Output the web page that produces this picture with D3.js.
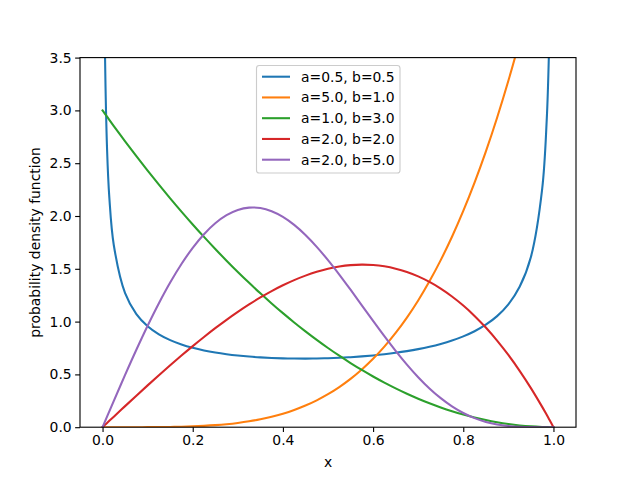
<!DOCTYPE html>
<html><head><meta charset="utf-8">
<script src="https://cdn.jsdelivr.net/npm/d3@7/dist/d3.min.js"></script>
<style>body{margin:0;background:#fff;} text{font-family:"DejaVu Sans",sans-serif;}</style>
</head><body><svg id="c" width="640" height="480"></svg>
<script>
const xs = [0,0.002,0.005,0.01,0.015,0.025,0.05,0.075,0.1,0.125,0.15,0.175,0.2,0.225,0.25,0.275,0.3,0.325,0.35,0.375,0.4,0.425,0.45,0.475,0.5,0.525,0.55,0.575,0.6,0.625,0.65,0.675,0.7,0.725,0.75,0.775,0.8,0.825,0.85,0.875,0.9,0.925,0.95,0.975,0.985,0.99,0.995,0.998,1];
const s1 = [null,5.72,3.668,2.635,2.179,1.7232,1.2689,1.0713,0.9561,0.8795,0.8247,0.7836,0.7519,0.7269,0.7071,0.6913,0.6787,0.6688,0.6613,0.6557,0.6520,0.6500,0.6496,0.6507,0.6533,0.6574,0.6632,0.6706,0.6798,0.6910,0.7044,0.7204,0.7393,0.7618,0.7887,0.8209,0.8602,0.9089,0.9706,1.0517,1.1633,1.3294,1.6120,2.2570,2.9032,3.5489,5.0094,7.912,null];
const s2 = [0,0,0,0,0,0.000002,0.0000313,0.000158,0.0005,0.00122,0.00253,0.00469,0.008,0.01281,0.01953,0.0286,0.0405,0.05578,0.07503,0.09888,0.128,0.16313,0.20503,0.25453,0.3125,0.37984,0.45753,0.54656,0.648,0.76294,0.89253,1.03797,1.2005,1.38141,1.58203,1.80375,2.048,2.31625,2.61003,2.93091,3.2805,3.66047,4.07253,4.51844,4.7067,4.80298,4.9,4.96,5];
const s3 = [3,2.98801,2.97008,2.9403,2.91068,2.85188,2.7075,2.56688,2.43,2.29688,2.1675,2.04188,1.92,1.80188,1.6875,1.57688,1.47,1.36688,1.2675,1.17188,1.08,0.99188,0.9075,0.82688,0.75,0.67688,0.6075,0.54188,0.48,0.42188,0.3675,0.31688,0.27,0.22688,0.1875,0.15188,0.12,0.09188,0.0675,0.04688,0.03,0.01688,0.0075,0.001875,0.000675,0.0003,0.000075,0.000012,0];
const s4 = [0,0.008,0.02,0.04,0.05999,0.09994,0.1995,0.29831,0.396,0.49219,0.5865,0.67856,0.768,0.85444,0.9375,1.01681,1.092,1.16269,1.2285,1.28906,1.344,1.39294,1.4355,1.47131,1.5,1.52119,1.5345,1.53956,1.536,1.52344,1.5015,1.46981,1.428,1.37569,1.3125,1.23806,1.152,1.05394,0.9435,0.82031,0.684,0.53419,0.3705,0.19256,0.11731,0.0788,0.0397,0.01595,0];
const s5 = [0,0.02,0.04999,0.09996,0.14986,0.24938,0.49502,0.73327,0.9606,1.17369,1.36949,1.54527,1.69869,1.82782,1.93119,2.00782,2.05725,2.07952,2.07518,2.04532,1.99148,1.91566,1.82027,1.70804,1.58203,1.44548,1.30178,1.15437,1.00663,0.86182,0.72297,0.59279,0.47357,0.36713,0.27477,0.19716,0.13437,0.08583,0.0504,0.0264,0.01173,0.00402,0.00086,0.000058,0,0,0,0,0];
const labels = ["a=0.5, b=0.5","a=5.0, b=1.0","a=1.0, b=3.0","a=2.0, b=2.0","a=2.0, b=5.0"];
const colors = ["#1f77b4","#ff7f0e","#2ca02c","#d62728","#9467bd"];
const xTicks = [0,0.2,0.4,0.6,0.8,1.0];
const yTicks = [0,0.5,1,1.5,2,2.5,3,3.5];
const series = [s1,s2,s3,s4,s5];

const svg = d3.select("#c");
const L=80,R=576,T=57.6,B=427.2;
const x = d3.scaleLinear().domain([-0.05,1.05]).range([L,R]);
const y = d3.scaleLinear().domain([0,3.5]).range([B,T]);

svg.append("defs").append("clipPath").attr("id","clip").append("rect")
  .attr("x",L).attr("y",T).attr("width",R-L).attr("height",B-T);

const line = d3.line().defined(d=>d[1]!==null).x(d=>x(d[0])).y(d=>y(d[1])).curve(d3.curveCatmullRom.alpha(0.5));
const g = svg.append("g").attr("clip-path","url(#clip)");
series.forEach((s,i)=>{
  g.append("path").datum(xs.map((v,j)=>[v,s[j]]))
   .attr("d",line).attr("fill","none").attr("stroke",colors[i]).attr("stroke-width",2.08)
   .attr("stroke-linejoin","round").attr("stroke-linecap","square");
});

const xa = svg.append("g").attr("transform",`translate(0,${B})`)
  .call(d3.axisBottom(x).tickValues(xTicks).tickFormat(d3.format(".1f")).tickSizeOuter(0).tickSize(4.86).tickPadding(3.5));
const ya = svg.append("g").attr("transform",`translate(${L},0)`)
  .call(d3.axisLeft(y).tickValues(yTicks).tickFormat(d3.format(".1f")).tickSizeOuter(0).tickSize(4.86).tickPadding(3.5));
[xa,ya].forEach(a=>{
  a.select(".domain").remove();
  a.selectAll("line").attr("stroke","#000").attr("stroke-width",1.11);
  a.selectAll("text").attr("font-size","13.9px").attr("fill","#000").attr("font-family","DejaVu Sans");
});
svg.append("rect").attr("x",L).attr("y",T).attr("width",R-L).attr("height",B-T)
  .attr("fill","none").attr("stroke","#000").attr("stroke-width",1.11);

svg.append("text").attr("x",(L+R)/2).attr("y",467).attr("text-anchor","middle")
  .attr("font-size","13.9px").text("x");
svg.append("text").attr("transform",`translate(40,${(T+B)/2}) rotate(-90)`).attr("text-anchor","middle")
  .attr("font-size","13.9px").text("probability density function");

const lg = svg.append("g");
lg.append("rect").attr("x",256.5).attr("y",65.5).attr("width",143.5).attr("height",107.5)
  .attr("rx",2.8).attr("fill","#fff").attr("fill-opacity",0.8).attr("stroke","#cccccc").attr("stroke-width",1.11);
labels.forEach((lab,i)=>{
  const yy = 76.7 + i*20.75;
  lg.append("line").attr("x1",262).attr("x2",290).attr("y1",yy).attr("y2",yy)
    .attr("stroke",colors[i]).attr("stroke-width",2.08);
  lg.append("text").attr("x",301).attr("y",yy).attr("dy","0.36em").attr("font-size","13.9px").text(lab);
});
</script></body></html>
